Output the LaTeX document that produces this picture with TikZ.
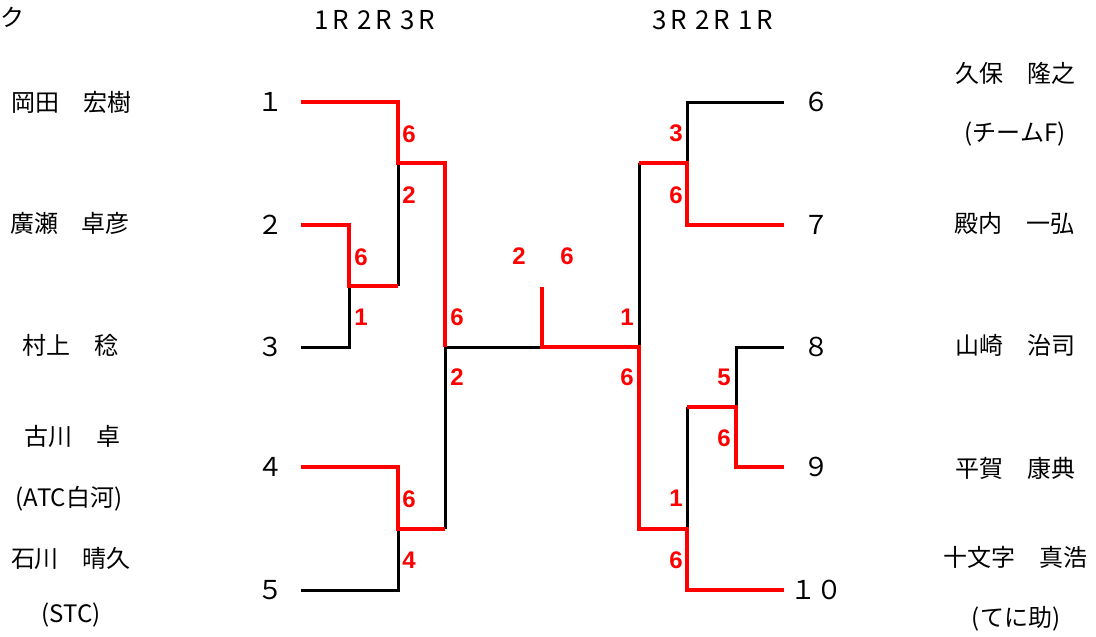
\documentclass[tikz,border=0pt]{standalone}
\usepackage{fontspec}
\setmainfont{Liberation Sans}
\newfontfamily\jp{Noto Sans CJK JP}
\newfontfamily\jphead[LetterSpace=12]{Noto Sans CJK JP}
\usetikzlibrary{positioning,calc}

\begin{document}
\begin{tikzpicture}[x=1pt, y=-1pt,
    player/.style={inner sep=0pt, font=\jp\fontsize{24}{26}\selectfont},
    seed/.style={inner sep=0pt, font=\jp\fontsize{26}{28}\selectfont},
    head/.style={inner sep=0pt, font=\jphead\fontsize{26}{28}\selectfont},
    score/.style={inner sep=0pt, text=red, font=\bfseries\fontsize{24}{26}\selectfont},
    win/.style={draw=red, line width=4.5pt},
    lose/.style={draw=black, line width=3pt}]

  \useasboundingbox (0,0) rectangle (1096,637);

  % round headers
  \node[player] (title) at (12,17) {ク};
  \node[head] (headL) at (375,20) {1R 2R 3R};
  \node[head] (headR) at (713,20) {3R 2R 1R};

  % players, left block
  \node[player] (p1) at (72,102) {岡田　宏樹};
  \node[player] (p2) at (70,223) {廣瀬　卓彦};
  \node[player] (p3) at (71,345) {村上　稔};
  \node[player] (p4) at (72,436) {古川　卓};
  \node[player] (t4) at (69,499) {(ATC白河)};
  \node[player] (p5) at (71,558) {石川　晴久};
  \node[player] (t5) at (71,615) {(STC)};

  % players, right block
  \node[player] (p6) at (1015,73) {久保　隆之};
  \node[player] (t6) at (1015,134) {(チームF)};
  \node[player] (p7) at (1014,223) {殿内　一弘};
  \node[player] (p8) at (1015,345) {山崎　治司};
  \node[player] (p9) at (1015,468) {平賀　康典};
  \node[player] (p10) at (1015,557) {十文字　真浩};
  \node[player] (t10) at (1016,619) {(てに助)};

  % draw numbers
  \node[seed] (n1) at (270,102) {１};
  \node[seed] (n2) at (270,225) {２};
  \node[seed] (n3) at (270,347) {３};
  \node[seed] (n4) at (270,467) {４};
  \node[seed] (n5) at (270,590) {５};
  \node[seed] (n6) at (816,102) {６};
  \node[seed] (n7) at (816,225) {７};
  \node[seed] (n8) at (816,347) {８};
  \node[seed] (n9) at (816,467) {９};
  \node[seed] (n10) at (816,590) {１０};

  % line ends and joints
  \coordinate (L1) at (301,102);
  \coordinate (L2) at (301,225);
  \coordinate (L3) at (301,347);
  \coordinate (L4) at (301,467);
  \coordinate (L5) at (301,590);
  \coordinate (R6) at (784,102);
  \coordinate (R7) at (784,225);
  \coordinate (R8) at (784,347);
  \coordinate (R9) at (784,467);
  \coordinate (R10) at (784,590);
  \coordinate (J23) at (349,286);
  \coordinate (J123) at (398,163);
  \coordinate (J45) at (398,529);
  \coordinate (SL) at (445,347);
  \coordinate (F) at (542,347);
  \coordinate (FT) at (542,287);
  \coordinate (SR) at (639,347);
  \coordinate (J67) at (687,163);
  \coordinate (J89) at (736,407);
  \coordinate (J8910) at (687,529);

  % losers first
  \draw[lose] (L3) -| (J23);
  \draw[lose] (J123) -- (J123 |- J23);
  \draw[lose] (L5) -| (J45);
  \draw[lose] (SL) -- (SL |- J45);
  \draw[lose] (SL) -- (F);
  \draw[lose] (R6) -| (J67);
  \draw[lose] (SR |- J67) -- (SR);
  \draw[lose] (R8) -| (J89);
  \draw[lose] (J8910 |- J89) -- (J8910);

  % winners on top
  \draw[win] (L2) -| (J23) -- (J123 |- J23);
  \draw[win] (L1) -| (J123) -| (SL);
  \draw[win] (L4) -| (J45) -- (SL |- J45);
  \draw[win] (R7) -| (J67) -- (SR |- J67);
  \draw[win] (R9) -| (J89) -- (J8910 |- J89);
  \draw[win] (R10) -| (J8910) -| (SR) -- (F) -- (FT);

  % scores
  \node[score] (s1) at (409,134) {6};
  \node[score] (s2) at (409,195) {2};
  \node[score] (s3) at (361,257) {6};
  \node[score] (s4) at (361,317) {1};
  \node[score] (s5) at (457,317) {6};
  \node[score] (s6) at (457,377) {2};
  \node[score] (s7) at (409,499) {6};
  \node[score] (s8) at (409,560) {4};
  \node[score] (s9) at (519,256) {2};
  \node[score] (s10) at (567,256) {6};
  \node[score] (s11) at (676,133) {3};
  \node[score] (s12) at (676,195) {6};
  \node[score] (s13) at (627,317) {1};
  \node[score] (s14) at (627,377) {6};
  \node[score] (s15) at (724,377) {5};
  \node[score] (s16) at (724,438) {6};
  \node[score] (s17) at (676,498) {1};
  \node[score] (s18) at (676,560) {6};
\end{tikzpicture}
\end{document}
